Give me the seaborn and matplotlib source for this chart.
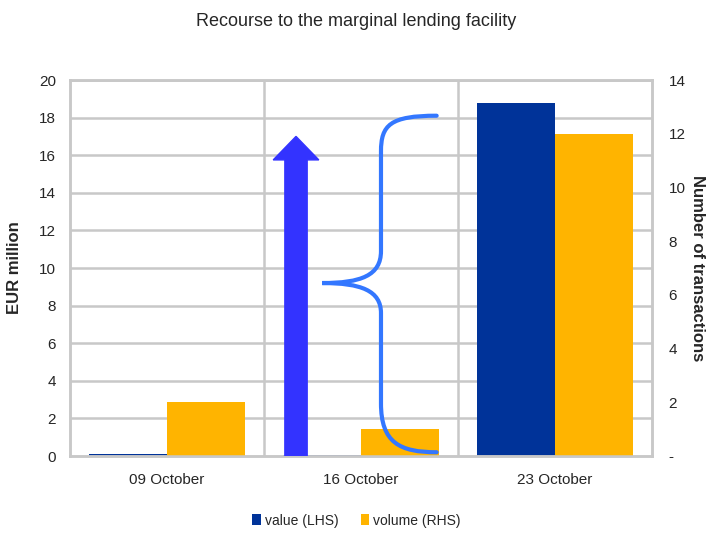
import matplotlib
matplotlib.use("Agg")
import matplotlib.pyplot as plt
import seaborn as sns
import pandas as pd
import numpy as np
from matplotlib.path import Path
from matplotlib.patches import PathPatch, FancyArrow, Patch

dates = ["09 October", "16 October", "23 October"]
value_lhs = [0.1, 0.05, 18.8]
volume_rhs = [2, 1, 12]
series = ["value (LHS)", "volume (RHS)"]
colors = {"value (LHS)": "#003399", "volume (RHS)": "#FFB400"}
left_ticks = list(range(0, 21, 2))
right_ticks = list(range(0, 15, 2))
right_labels = ["-"] + [str(t) for t in right_ticks[1:]]

sns.set_style("white")
plt.rcParams['font.family'] = ['Liberation Sans Narrow', 'Liberation Sans', 'DejaVu Sans']

nan = [np.nan] * len(dates)
df_lhs = pd.DataFrame({"date": dates * 2, "v": value_lhs + nan,
                       "series": [series[0]] * 3 + [series[1]] * 3})
df_rhs = pd.DataFrame({"date": dates * 2, "v": nan + volume_rhs,
                       "series": [series[0]] * 3 + [series[1]] * 3})

fig = plt.figure(figsize=(7.13, 5.40), dpi=100)
ax = fig.add_axes([70/713, 84/540, 582/713, 376/540])
ax2 = ax.twinx()

grid_c = "#c8c8c8"
for t in left_ticks[1:]:
    ax.axhline(t, color=grid_c, lw=1.8, zorder=0)
for xv in [0.5, 1.5]:
    ax.axvline(xv, color=grid_c, lw=1.8, zorder=0)

sns.barplot(data=df_lhs, x="date", y="v", hue="series", hue_order=series,
            palette=colors, ax=ax, width=0.8, legend=False, saturation=1, zorder=2,
            linewidth=0, edgecolor="none")
sns.barplot(data=df_rhs, x="date", y="v", hue="series", hue_order=series,
            palette=colors, ax=ax2, width=0.8, legend=False, saturation=1, zorder=2,
            linewidth=0, edgecolor="none")

ax.set_xlim(-0.5, 2.5)
ax.set_ylim(0, 20)
ax2.set_ylim(0, 14)
ax.set_yticks(left_ticks)
ax.set_yticklabels([str(t) for t in left_ticks], fontsize=11)
ax2.set_yticks(right_ticks)
ax2.set_yticklabels(right_labels, fontsize=11)
ax.tick_params(axis="y", length=0, pad=10)
ax2.tick_params(axis="y", length=0, pad=12)
ax.tick_params(axis="x", length=0, pad=12, labelsize=11)
ax.set_xlabel("")
ax2.set_xlabel("")
ax.set_ylabel("EUR million", fontsize=12, fontweight="bold", labelpad=12,
              family=['Liberation Sans', 'DejaVu Sans'])
ax2.set_ylabel("Number of transactions", fontsize=12, fontweight="bold",
               rotation=270, labelpad=14, family=['Liberation Sans', 'DejaVu Sans'])
for a in (ax, ax2):
    for s in a.spines.values():
        s.set_color(grid_c)
        s.set_linewidth(1.8)

# Annotation arrow (in left-axis data coordinates, drawn above all bars)
arr = FancyArrow(0.665, 0, 0, 17.0, width=0.115, head_width=0.235, head_length=1.25,
                 length_includes_head=True, color="#3333ff", zorder=5,
                 transform=ax.transData)
ax2.add_patch(arr)

# Curly brace
bx = 1.103
verts = [
    (1.39, 18.1),
    (1.15, 18.1), (bx, 17.6), (bx, 16.2),
    (bx, 10.9),
    (bx, 9.6), (1.0, 9.2), (0.80, 9.2),
    (1.0, 9.2), (bx, 8.8), (bx, 7.6),
    (bx, 2.8),
    (bx, 0.7), (1.2, 0.2), (1.39, 0.2),
]
codes = [Path.MOVETO,
         Path.CURVE4, Path.CURVE4, Path.CURVE4,
         Path.LINETO,
         Path.CURVE4, Path.CURVE4, Path.CURVE4,
         Path.CURVE4, Path.CURVE4, Path.CURVE4,
         Path.LINETO,
         Path.CURVE4, Path.CURVE4, Path.CURVE4]
ax2.add_patch(PathPatch(Path(verts, codes), fill=False, edgecolor="#3377ff", lw=3,
                        capstyle="round", zorder=6, transform=ax.transData))

fig.suptitle("Recourse to the marginal lending facility", y=0.975, fontsize=13)

handles = [Patch(facecolor=colors[s], edgecolor="none") for s in series]
fig.legend(handles, series, loc="lower center", bbox_to_anchor=(0.5, 0.0), ncol=2,
           frameon=False, fontsize=10, handlelength=0.6, handleheight=0.9,
           handletextpad=0.3, columnspacing=1.6)

fig.savefig("out.png", dpi=100)
